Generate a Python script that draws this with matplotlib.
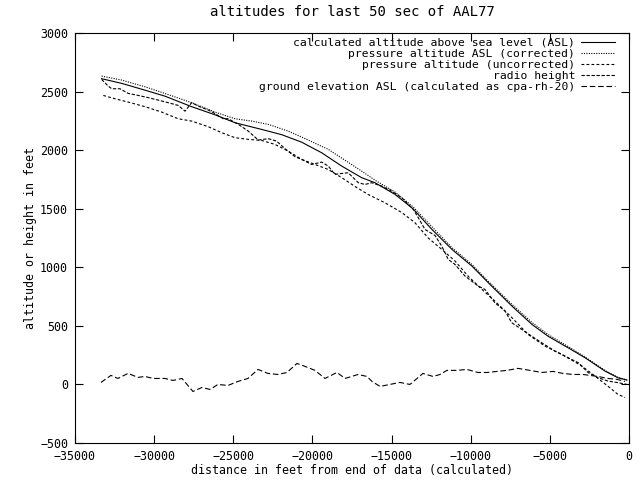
import matplotlib
matplotlib.use("Agg")
import matplotlib.pyplot as plt

plt.rcParams['font.family'] = ['DejaVu Sans Mono']
plt.rcParams['font.size'] = 8.4

# calculated altitude above sea level (ASL)
x_calc = [-33320, -32050, -30580, -29320, -27630, -26160, -24890, -23210, -21940, -20680,
          -19420, -18150, -16890, -16050, -14780, -13650, -12450, -11180, -9920, -8910,
          -7390, -6130, -5120, -3850, -2780, -1520, -700, -130]
alt_calc = [2610, 2570, 2512, 2461, 2371, 2302, 2234, 2177, 2132, 2068,
            1978, 1864, 1765, 1722, 1622, 1500, 1323, 1152, 1010, 871,
            668, 512, 412, 313, 228, 114, 57, 37]

# pressure altitude ASL (corrected)
x_corr = [-33320, -32050, -30580, -29320, -27630, -26160, -24890, -23830, -22790, -21520,
          -20260, -18990, -17730, -16890, -16050, -14780, -13650, -12450, -11180, -9920,
          -8910, -7390, -6130, -5120, -3850, -2780, -1520, -700, -130]
alt_corr = [2632, 2598, 2541, 2484, 2405, 2325, 2268, 2248, 2220, 2162,
            2086, 2006, 1895, 1821, 1744, 1642, 1517, 1346, 1167, 1024,
            882, 683, 529, 427, 324, 235, 120, 60, 38]

# pressure altitude (uncorrected)
x_unc = [-33210, -32480, -31630, -30580, -29520, -28480, -27630, -26580, -25730, -24890,
         -24050, -23210, -22370, -21530, -20680, -19840, -19000, -18150, -17310, -16490,
         -15420, -14340, -13520, -12700, -11820, -10990, -10170, -9290, -8470, -7390,
         -6380, -5310, -4230, -2970, -2150, -1330, -700, -250]
alt_unc = [2467, 2439, 2410, 2371, 2325, 2268, 2248, 2200, 2149, 2106,
           2092, 2083, 2049, 1992, 1921, 1878, 1835, 1765, 1690, 1622,
           1551, 1466, 1380, 1252, 1152, 1053, 925, 811, 711, 569,
           427, 327, 256, 156, 71, -15, -85, -111]

# radio height
x_rh = [-33320, -32900, -32680, -32160, -31630, -31000, -30370, -29740, -29110, -28480,
        -28050, -27630, -27210, -26580, -26260, -25630, -25320, -24680, -24050, -23420,
        -22790, -22260, -21730, -21100, -20680, -20050, -19420, -19000, -18580, -18150,
        -17740, -17100, -16680, -16260, -15620, -14990, -14360, -13630, -13310, -12890,
        -12260, -11830, -11420, -10990, -10360, -9940, -9520, -9100, -8470, -7830,
        -7410, -6780, -6150, -5520, -4680, -3840, -3200, -2570, -1940, -1310, -680, -130]
rh = [2604, 2547, 2524, 2524, 2484, 2467, 2448, 2427, 2405, 2382,
      2333, 2405, 2376, 2342, 2320, 2268, 2268, 2220, 2162, 2086,
      2098, 2077, 2012, 1944, 1921, 1878, 1898, 1864, 1793, 1801,
      1807, 1722, 1707, 1722, 1693, 1650, 1594, 1494, 1423, 1323,
      1272, 1181, 1067, 1024, 925, 882, 839, 811, 697, 626,
      527, 470, 412, 356, 284, 228, 185, 100, 57, 28, 15, 0]

# ground elevation ASL (calculated as cpa-rh-20)
x_gnd = [-33360, -32730, -32290, -31650, -31020, -30580, -30070, -29320, -28810, -28240,
         -27550, -26980, -26470, -25970, -25340, -24700, -24070, -23440, -22810, -22180,
         -21610, -20980, -20470, -19840, -19210, -18450, -17940, -17120, -16550, -16240,
         -15730, -15100, -14470, -13840, -13390, -13020, -12380, -11940, -11500, -10870,
         -10240, -9540, -8970, -8340, -7710, -7010, -6260, -5500, -4800, -4170,
         -3540, -2910, -2460, -1960, -1330, -760, -250]
gnd = [17, 77, 51, 94, 60, 68, 51, 51, 34, 51,
       -60, -26, -43, 0, -9, 26, 51, 128, 94, 85,
       102, 179, 154, 120, 51, 102, 51, 85, 68, 26,
       -17, 0, 17, 0, 51, 94, 68, 85, 120, 120,
       128, 102, 102, 111, 120, 137, 120, 102, 111, 94,
       85, 85, 77, 68, 51, 43, 26]

fig = plt.figure(figsize=(6.4, 4.8), dpi=100)
ax = fig.add_axes([75/640, 1-443/480, 554/640, 410/480])

ax.plot(x_calc, alt_calc, color='black', lw=0.8, ls='-',
        label='calculated altitude above sea level (ASL)')
ax.plot(x_corr, alt_corr, color='black', lw=0.8, ls=(0, (1, 1.2)),
        label='pressure altitude ASL (corrected)')
ax.plot(x_unc, alt_unc, color='black', lw=0.8, ls=(0, (2.5, 2)),
        label='pressure altitude (uncorrected)')
ax.plot(x_rh, rh, color='black', lw=0.8, ls=(0, (3, 1.5)),
        label='radio height')
ax.plot(x_gnd, gnd, color='black', lw=0.8, ls=(0, (5, 2.5)),
        label='ground elevation ASL (calculated as cpa-rh-20)')

ax.set_xlim(-35000, 0)
ax.set_ylim(-500, 3000)
ax.set_xticks(range(-35000, 1, 5000))
ax.set_yticks(range(-500, 3001, 500))
ax.tick_params(direction='in', length=6, width=0.8, top=True, right=True, pad=5)
for s in ax.spines.values():
    s.set_linewidth(0.8)

ax.set_title('altitudes for last 50 sec of AAL77', pad=12)
ax.set_xlabel('distance in feet from end of data (calculated)', labelpad=1)
ax.set_ylabel('altitude or height in feet', labelpad=2)

ax.legend(loc='upper right', bbox_to_anchor=(0.975, 0.988), frameon=False,
          markerfirst=False, handlelength=3.0, handletextpad=0.5,
          labelspacing=0.1, borderpad=0, borderaxespad=0, fontsize=8.2)

fig.savefig('out.png', dpi=100)
